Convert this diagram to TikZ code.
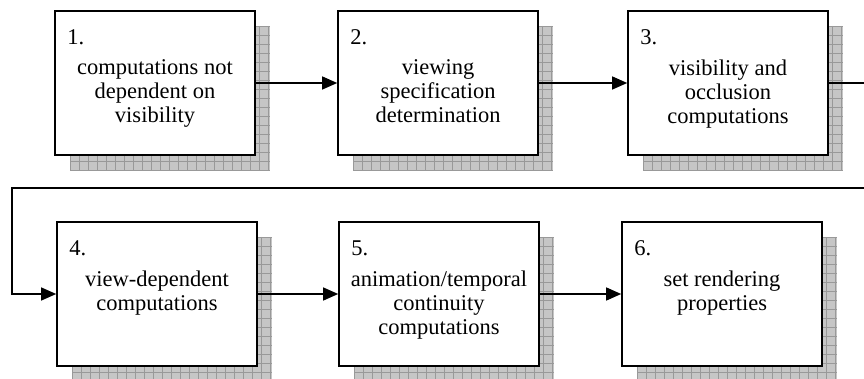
\documentclass[tikz,border=0pt]{standalone}
\usepackage{fontspec}
\setmainfont{Liberation Serif}
\usetikzlibrary{arrows.meta,positioning}
\tikzset{
  stage/.style={draw, line width=1.6pt, fill=white, minimum width=200pt, minimum height=144pt, inner sep=0pt},
  stagenum/.style={anchor=base west, inner sep=0pt, font=\fontsize{22.5}{24}\selectfont},
  stagetext/.style={anchor=north, inner sep=0pt, align=center, font=\fontsize{22.5}{24}\selectfont},
  flow/.style={line width=1.2pt, -{Triangle[length=15pt,width=13pt]}},
}
\begin{document}
\begin{tikzpicture}[x=1pt, y=-1pt]
    \useasboundingbox (0,0) rectangle (864,379);
    % shadows first, the boxes go on top of them
    \foreach \bx/\by in {55/11,338/11,628/11,57/222,339/222,622/222}{
        \fill[gray!45] (\bx+15,\by+15) rectangle (\bx+215,\by+159);
        \foreach \k in {0,...,22}
            \draw[gray!80, line width=0.5pt] (\bx+15+\k*9,\by+15) -- (\bx+15+\k*9,\by+159);
        \foreach \k in {0,...,16}
            \draw[gray!80, line width=0.5pt] (\bx+15,\by+15+\k*9) -- (\bx+215,\by+15+\k*9);
    }
    \node[stage] (s1) at (155,83) {};
    \node[stage] (s2) at (438,83) {};
    \node[stage] (s3) at (728,83) {};
    \node[stage] (s4) at (157,294) {};
    \node[stage] (s5) at (439,294) {};
    \node[stage] (s6) at (722,294) {};
    \node[stagenum] (n1) at ([xshift=13pt,yshift=-34pt]s1.north west) {1.};
    \node[stagenum] (n2) at ([xshift=13pt,yshift=-34pt]s2.north west) {2.};
    \node[stagenum] (n3) at ([xshift=13pt,yshift=-34pt]s3.north west) {3.};
    \node[stagenum] (n4) at ([xshift=13pt,yshift=-34pt]s4.north west) {4.};
    \node[stagenum] (n5) at ([xshift=13pt,yshift=-34pt]s5.north west) {5.};
    \node[stagenum] (n6) at ([xshift=13pt,yshift=-34pt]s6.north west) {6.};
    \node[stagetext] (t1) at ([yshift=-49pt]s1.north) {computations not\\dependent on\\visibility};
    \node[stagetext] (t2) at ([yshift=-49pt]s2.north) {viewing\\specification\\determination};
    \node[stagetext] (t3) at ([yshift=-49pt]s3.north) {visibility and\\occlusion\\computations};
    \node[stagetext] (t4) at ([yshift=-49pt]s4.north) {view-dependent\\computations};
    \node[stagetext] (t5) at ([yshift=-49pt]s5.north) {animation/temporal\\continuity\\computations};
    \node[stagetext] (t6) at ([yshift=-49pt]s6.north) {set rendering\\properties};
    % wrap-around from 3 to 4
    \coordinate (r1) at (866,83);
    \coordinate (r2) at (866,188);
    \coordinate (r3) at (12,188);
    \coordinate (r4) at (12,294);
    \draw[flow] (s1.east) -- (s2.west);
    \draw[flow] (s2.east) -- (s3.west);
    \draw[flow] (s3.east) -- (r1) -- (r2) -- (r3) -- (r4) -- (s4.west);
    \draw[flow] (s4.east) -- (s5.west);
    \draw[flow] (s5.east) -- (s6.west);
\end{tikzpicture}
\end{document}
